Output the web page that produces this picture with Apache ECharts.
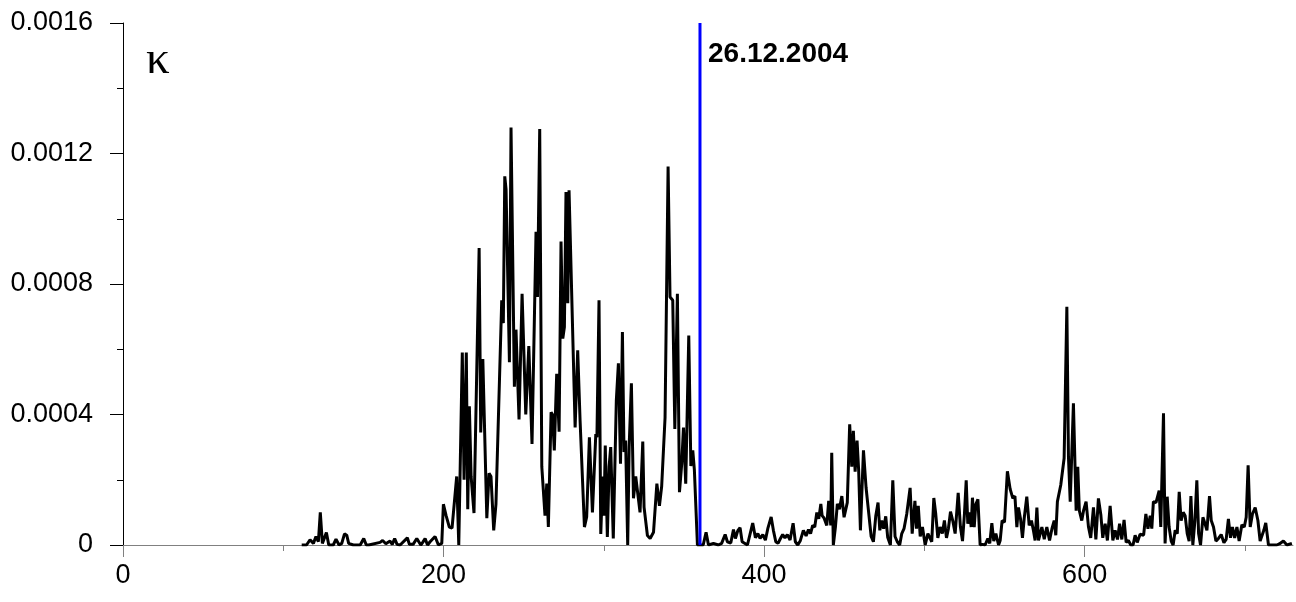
<!DOCTYPE html>
<html>
<head>
<meta charset="utf-8">
<script src="https://cdn.jsdelivr.net/npm/echarts@6/dist/echarts.min.js"></script>
<style>
    html, body { margin: 0; padding: 0; background: #fff; }
    #container { width: 1296px; height: 602px; }
</style>
</head>
<body>
<div id="container"></div>
<script>
// day index (x) and kappa in units of 1e-4 at each turning point
var days = [
    111.5, 114.5, 116.7, 118.8, 120.4, 121.9, 123.1, 124.4, 125.6, 126.9, 128.4, 131.2, 132.9, 134.8, 136.5, 138.2,
    139.6, 140.8, 143.7, 148, 150.2, 151.8, 153.3, 160.4, 162, 164, 166.6, 168, 169.5, 171, 172.9, 177.4,
    178.7, 181, 183.3, 185.8, 187, 188.5, 190, 191.6, 194.7, 196.8, 198.9, 199.9, 201.6, 202.4, 203.6, 205.3,
    208.2, 209.5, 210.7, 211.7, 212.8, 214.2, 215.1, 216.1, 217.2, 219, 222.2, 223.2, 224.5, 227, 228.4, 229.6,
    231.3, 232.7, 233.6, 236.3, 237.3, 238.2, 239, 241.1, 242.1, 244.2, 245.2, 247.1, 249, 251.3, 253.2, 255.2,
    257.7, 258.6, 260, 261.3, 263.3, 264.4, 265.4, 267.1, 268, 269.1, 270.6, 272.1, 273.3, 274.4, 275.4, 276.4,
    277.5, 278.3, 279.2, 282.1, 283.7, 285.2, 287.9, 289.3, 291, 292.9, 295, 295.7, 297, 298.1, 299.3, 300.1,
    300.9, 302.2, 303.3, 304.3, 305.9, 307.8, 309.1, 310.4, 311.6, 312.6, 313.6, 314.9, 315.8, 317.2, 318.5, 319.9,
    322.6, 324.3, 325.1, 326, 327.2, 328.9, 331, 333.1, 334.7, 336.1, 338.2, 340.1, 341.3, 343, 344.3, 345.9,
    347.2, 348.6, 349.7, 351.1, 353, 354.3, 355.5, 356.5, 358.4, 360, 362, 363.8, 365.3, 368.4, 371.5, 373.5,
    375.7, 377.1, 379.2, 380.9, 382.1, 383.6, 385, 386.3, 387.5, 389.6, 390.8, 392.9, 394.6, 396.1, 397.5, 399.2,
    400.8, 402.3, 403.3, 404.4, 405.8, 407.3, 408.7, 410.2, 411.6, 413, 414.5, 416.2, 418.1, 419.5, 421, 422.5,
    424.5, 426.2, 427.7, 429, 430.3, 431.6, 432.9, 434.1, 435.4, 436.2, 437.4, 439.1, 440.3, 441.6, 442.2, 443.2,
    444.5, 445.7, 447, 448.5, 449.9, 450.9, 451.9, 453.4, 454.7, 455.7, 456.8, 458, 459, 460.1, 462, 463.6,
    465.1, 466.8, 468.2, 469.7, 471.1, 472.2, 473.4, 474.6, 475.9, 477.1, 478.8, 480.3, 481.7, 483.1, 484.6, 485.9,
    487.3, 489, 491.1, 492.4, 494.1, 495.1, 496.2, 497.4, 498.8, 500.5, 502.2, 503.3, 504.6, 505.9, 507.1, 508.4,
    509.8, 511.2, 512.5, 513.8, 515, 516.3, 517.7, 519.2, 521.1, 522.5, 523.8, 525, 526.1, 527.1, 528.4, 529.2,
    530, 531.1, 532.1, 533.4, 534.8, 536.3, 537.9, 539.6, 540.8, 542.1, 543.3, 544.6, 546.3, 547.3, 548.5, 550,
    551.8, 553.5, 555.2, 556.5, 557.7, 558.7, 560, 561.2, 562.3, 563.9, 565.4, 566.8, 568.1, 569.1, 570.2, 571.2,
    573.3, 574.8, 576.4, 578.1, 579.6, 581, 582, 583, 585.1, 587.2, 588.9, 589.9, 591, 593, 594.7, 595.7,
    596.7, 598.2, 599.3, 600.9, 602.4, 603.8, 605.5, 607, 608.6, 610.1, 611.3, 612.8, 614.2, 615.9, 617.6, 619,
    620.5, 621.8, 623.2, 624.6, 625.9, 627.3, 628.8, 630.2, 631.5, 632.8, 634.6, 636.8, 638.2, 639.5, 640.9, 641.9,
    642.9, 644.5, 645.6, 646.5, 647.5, 648.1, 649.2, 650.2, 651.5, 652.7, 654, 655.2, 656.5, 657.8, 659, 660.2,
    661.5, 662.7, 664, 665.2, 666.3, 667.5, 668.8, 670, 671.1, 672.3, 673.8, 675.1, 676.3, 677.9, 679, 680.4,
    681.9, 683.5, 685.2, 686.9, 688.3, 689.7, 691, 692.2, 693.6, 695, 696.4, 698.1, 699.6, 700.8, 702, 703.3,
    704.7, 706.4, 708.1, 709.5, 710.5, 711.8, 713, 714.7, 717, 719.9, 721.7, 724, 726.2, 729.3
];

var kappa1e4 = [
    0, 0, 0.16, 0.05, 0.26, 0.1, 1.0, 0.05, 0.05, 0.38, 0, 0, 0.18, 0, 0.05, 0.34,
    0.3, 0.05, 0, 0, 0.2, 0, 0, 0.08, 0.14, 0.04, 0.12, 0.02, 0.2, 0.02, 0, 0.22,
    0.02, 0.02, 0.2, 0, 0.08, 0.2, 0, 0.1, 0.26, 0, 0.05, 1.25, 0.9, 0.92, 0.55, 0.52,
    2.1, 0, 0, 5.9, 2.0, 5.9, 1.1, 4.25, 2.1, 0.98, 9.1, 3.45, 5.7, 0.82, 2.2, 2.1,
    0.45, 1.25, 1.3, 7.5, 6.8, 11.3, 10.9, 5.6, 12.8, 4.85, 6.6, 3.85, 7.7, 4.0, 6.1, 3.1,
    9.6, 7.6, 12.75, 2.4, 0.9, 1.88, 0.55, 4.07, 4.0, 2.9, 5.25, 3.47, 9.3, 6.33, 6.68, 10.82,
    7.41, 10.87, 10.87, 3.6, 5.97, 3.8, 0.55, 0.86, 3.3, 1.0, 3.4, 3.3, 7.5, 0.34, 2.1, 0.9,
    3.05, 0.25, 2.4, 3.0, 0.2, 4.43, 5.57, 2.49, 6.53, 2.85, 3.2, 0, 3.0, 4.96, 1.43, 2.1,
    1.0, 3.17, 1.16, 1.2, 0.29, 0.2, 0.39, 1.88, 1.2, 1.8, 3.9, 11.6, 7.6, 7.5, 3.56, 7.7,
    1.62, 2.49, 3.6, 1.88, 6.42, 2.42, 2.9, 2.3, 0, 0, 0, 0.39, 0, 0.05, 0, 0.05,
    0.32, 0.1, 0.06, 0.47, 0.2, 0.44, 0.53, 0.1, 0.15, 0, 0, 0.67, 0.22, 0.35, 0.2, 0.32,
    0.15, 0.5, 0.5, 0.86, 0.45, 0.1, 0.05, 0.2, 0.32, 0.22, 0.32, 0.15, 0.67, 0.1, 0, 0.12,
    0.45, 0.28, 0.47, 0.35, 0.6, 0.55, 1.0, 0.8, 1.26, 0.9, 0.83, 0.6, 1.35, 0.6, 2.83, 0,
    0.55, 1.26, 1.1, 1.5, 0.85, 0.85, 1.3, 3.7, 2.4, 3.5, 2.25, 3.2, 2.3, 0.45, 2.9, 1.77,
    1.06, 0.26, 0.1, 0.9, 1.3, 0.45, 0.75, 0.5, 0.88, 0.24, 0, 1.98, 0.26, 0.1, 0, 0.35,
    0.5, 0.95, 1.75, 0.35, 1.35, 0.5, 1.2, 0.26, 0.55, 0, 0.35, 0.3, 0.1, 1.44, 0.95, 0.22,
    0.55, 0.35, 0.75, 0.22, 0.5, 1.02, 0.75, 0.35, 1.6, 0.55, 0.12, 0.95, 1.98, 0.65, 1.0, 0.55,
    1.45, 0.55, 1.25, 1.4, 0, 0.02, 0, 0.2, 0.05, 0.67, 0.12, 0.35, 0, 0.14, 0.75, 0.7,
    2.26, 1.72, 1.43, 1.5, 0.55, 1.15, 0.8, 0.22, 0.82, 1.48, 0.6, 0.75, 0.43, 0.14, 1.15, 0.14,
    0.55, 0.18, 0.55, 0.14, 0.5, 0.75, 0.3, 1.33, 1.84, 2.66, 7.3, 2.7, 1.33, 4.34, 1.05, 2.4,
    1.05, 0.75, 1.05, 1.33, 0.55, 0.22, 1.15, 0.17, 1.43, 0.93, 0.22, 0.65, 0.14, 1.2, 0.14, 0.45,
    0.17, 0.65, 0.17, 0.77, 0.08, 0.14, 0, 0, 0.3, 0.08, 0.33, 0.3, 0.95, 0.5, 0.9, 0.5,
    1.33, 1.3, 1.33, 1.67, 0.55, 1.8, 4.04, 0.05, 1.48, 0.55, 0.12, 0, 0.45, 0.35, 1.63, 0.75,
    1.0, 0.9, 0.35, 0.12, 1.5, 0, 0.75, 1.98, 0.35, 0, 0.85, 0.65, 0.45, 1.5, 0.75, 0.55,
    0.12, 0.2, 0.32, 0.07, 0.17, 0.8, 0.22, 0.55, 0.22, 0.55, 0.12, 0.62, 0.55, 0.85, 2.44, 0.55,
    0.95, 1.15, 0.75, 0.12, 0.17, 0.45, 0.68, 0, 0, 0, 0.04, 0.12, 0, 0.05
];

var xMajorTicks = [0, 200, 400, 600];
var xMinorTicks = [100, 300, 500, 700];
var eventDay = 360;
var eventLabel = '26.12.2004';
var kappaLabel = '\u03BA';

function buildSeriesData(){
    let out = [];
    for (let i = 0; i < days.length; i++){
        out.push([days[i], kappa1e4[i] * 1e-4]);
    }
    return out;
}

function init(){
    let dom = document.getElementById("container");
    let myChart = echarts.init(dom, null, {renderer: 'canvas'});
    let labelFont = '"Liberation Sans", Arial, sans-serif';
    let option = {
        backgroundColor: '#ffffff',
        animation: false,
        title: [{
            text: eventLabel,
            left: 708,
            top: 40,
            padding: 0,
            textStyle: { fontFamily: labelFont, fontWeight: 'bold', fontSize: 28, color: '#000' }
        }, {
            text: kappaLabel,
            left: 146,
            top: 37,
            padding: 0,
            textStyle: { fontFamily: '"Liberation Serif", "DejaVu Serif", serif', fontWeight: 'normal', fontSize: 47, color: '#000' }
        }],
        grid: { left: 123, right: 3, top: 23, bottom: 57, containLabel: false },
        xAxis: [{
            type: 'value',
            min: 0,
            max: 730,
            splitLine: { show: false },
            axisLine: { onZero: false, lineStyle: { color: '#808080', width: 1 } },
            axisTick: { length: 12, customValues: xMajorTicks, lineStyle: { color: '#808080' } },
            axisLabel: { customValues: xMajorTicks, margin: 17, fontSize: 27, color: '#000', fontFamily: labelFont }
        }, {
            type: 'value',
            min: 0,
            max: 730,
            position: 'bottom',
            splitLine: { show: false },
            axisLine: { show: false },
            axisTick: { length: 6, customValues: xMinorTicks, lineStyle: { color: '#808080' } },
            axisLabel: { show: false }
        }],
        yAxis: {
            type: 'value',
            min: 0,
            max: 0.0016,
            interval: 0.0004,
            splitLine: { show: false },
            axisLine: { show: true, lineStyle: { color: '#000', width: 1 } },
            axisTick: { show: true, length: 13, lineStyle: { color: '#000' } },
            minorTick: { show: true, splitNumber: 2, length: 6, lineStyle: { color: '#000' } },
            axisLabel: {
                margin: 30, fontSize: 27, color: '#000', fontFamily: labelFont,
                formatter: function (v) { return v === 0 ? '0' : v.toFixed(4); }
            }
        },
        series: [{
            name: 'kappa',
            type: 'line',
            xAxisIndex: 0,
            data: buildSeriesData(),
            showSymbol: false,
            symbol: 'none',
            lineStyle: { color: '#000', width: 3 },
            z: 3
        }, {
            name: 'event',
            type: 'line',
            xAxisIndex: 0,
            data: [[eventDay, 0], [eventDay, 0.0016]],
            symbol: 'none',
            lineStyle: { color: '#0000ff', width: 3 },
            z: 4
        }]
    };
    myChart.setOption(option, true);
}

init();
</script>
</body>
</html>
